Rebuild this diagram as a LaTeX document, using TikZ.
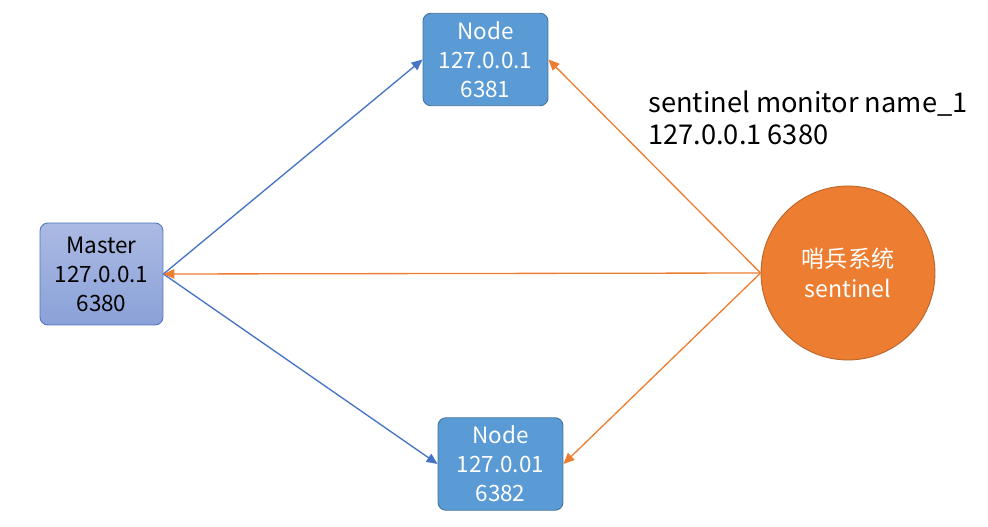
\documentclass[tikz,border=0pt]{standalone}
\usepackage{fontspec}
\setmainfont{Noto Sans CJK SC}
\usetikzlibrary{positioning,arrows.meta}
\definecolor{boxblue}{HTML}{5B9BD5}
\definecolor{boxline}{HTML}{41719C}
\definecolor{masterline}{HTML}{4F74C6}
\definecolor{mastertop}{HTML}{ABBAE3}
\definecolor{masterbot}{HTML}{8AA1D8}
\definecolor{linkblue}{HTML}{4472C4}
\definecolor{linkorange}{HTML}{ED7D31}
\definecolor{sentline}{HTML}{B9652C}

\begin{document}
\begin{tikzpicture}[
  x=0.02cm, y=-0.02cm,
  font=\fontsize{12.8pt}{16.5pt}\selectfont,
  >={Triangle[length=2.2mm,width=1.9mm]},
  box/.style={rectangle,rounded corners=4.5pt,draw=boxline,line width=0.5pt,
              fill=boxblue,text=white,align=center,inner sep=0pt,
              minimum width=2.5cm,minimum height=1.85cm},
  master/.style={box,draw=masterline,text=black,top color=mastertop,bottom color=masterbot,
              minimum width=2.46cm,minimum height=2.04cm},
  sentinel/.style={circle,draw=sentline,line width=0.5pt,fill=linkorange,text=white,
              align=center,minimum size=3.48cm,inner sep=0pt,
              font=\fontsize{13.2pt}{17pt}\selectfont},
  bluelink/.style={->,linkblue,line width=0.75pt},
  orangelink/.style={->,linkorange,line width=0.75pt},
  cmd/.style={anchor=north west,align=left,text=black,inner sep=0pt,
              font=\fontsize{15.5pt}{18.2pt}\selectfont},
]
\useasboundingbox (0,0) rectangle (988,527);

% nodes
\node[master] (Master) at (101.5,274) {Master\\127.0.0.1\\6380};
\node[box] (Node1) at (485.5,59.5) {Node\\127.0.0.1\\6381};
\node[box] (Node2) at (500.5,464) {Node\\127.0.01\\6382};
\node[sentinel] (Sentinel) at (848,273) {哨兵系统\\sentinel};

\node[cmd] (Cmd) at (648,90) {sentinel monitor name\_1\\127.0.0.1 6380};

% replication
\draw[bluelink] (Master.east) -- (Node1.west);
\draw[bluelink] (Master.east) -- (Node2.west);

% monitoring
\draw[orangelink] (Sentinel.west) -- (Master.east);
\draw[orangelink] (Sentinel.west) -- (Node1.east);
\draw[orangelink] (Sentinel.west) -- (Node2.east);

\end{tikzpicture}
\end{document}
